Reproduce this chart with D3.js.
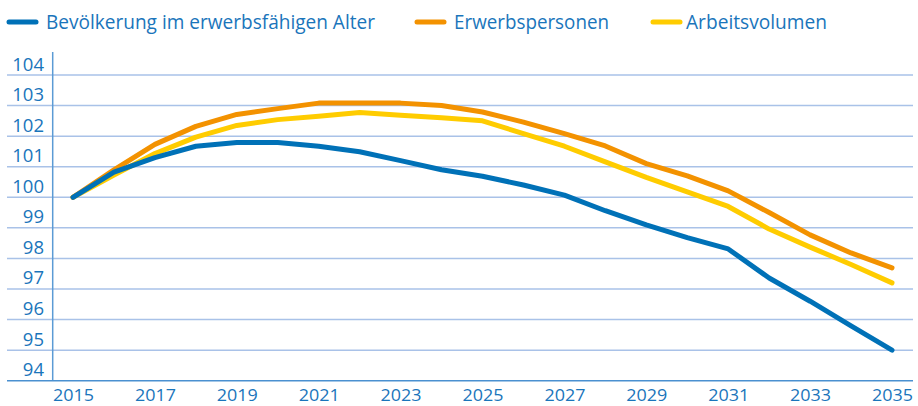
<!DOCTYPE html>
<html>
<head>
<meta charset="utf-8">
<script src="https://cdn.jsdelivr.net/npm/d3@7"></script>
<style>
  body { margin: 0; background: #fff; }
  svg text { font-family: "Open Sans", sans-serif; fill: #1a75bb; }
</style>
</head>
<body>
<script>
// index values, 2015 = 100
var years = d3.range(2015, 2036)
var bevoelkerung = [100, 100.82, 101.3, 101.67, 101.79, 101.79, 101.67, 101.49, 101.2, 100.9, 100.69,
                    100.4, 100.07, 99.56, 99.1, 98.68, 98.31, 97.36, 96.6, 95.79, 95.0]
var erwerbspersonen = [100, 100.9, 101.73, 102.32, 102.71, 102.9, 103.08, 103.08, 103.08, 103.0, 102.79,
                       102.46, 102.08, 101.68, 101.1, 100.7, 100.21, 99.5, 98.77, 98.18, 97.69]
var arbeitsvolumen = [100, 100.73, 101.43, 101.97, 102.35, 102.54, 102.65, 102.77, 102.68, 102.6, 102.5,
                      102.08, 101.67, 101.16, 100.65, 100.18, 99.7, 98.96, 98.37, 97.8, 97.2]
var seriesNames = ['Bevölkerung im erwerbsfähigen Alter', 'Erwerbspersonen', 'Arbeitsvolumen']
var seriesColors = ['#0071b7', '#f39200', '#ffcc00']
var yTicks = d3.range(94, 105)
var xTicks = d3.range(2015, 2036, 2)

var width = 918, height = 406
var svg = d3.select('body').append('svg')
    .attr('width', width)
    .attr('height', height)

var x = d3.scaleLinear().domain([2015, 2035]).range([73, 892])
var y = d3.scaleLinear().domain([94, 104]).range([380.7, 75])

// gridlines
svg.append('g')
  .selectAll('line')
  .data(yTicks.slice(1))
  .enter()
  .append('line')
    .attr('x1', 7)
    .attr('x2', 913)
    .attr('y1', function (d) { return y(d) })
    .attr('y2', function (d) { return y(d) })
    .attr('stroke', '#a9c2e8')
    .attr('stroke-width', 1.5)

// y labels sit just above their gridline
svg.append('g')
  .selectAll('text')
  .data(yTicks)
  .enter()
  .append('text')
    .attr('x', 44)
    .attr('y', function (d) { return y(d) - 4.5 })
    .style('text-anchor', 'end')
    .style('font-size', '18.5px')
    .text(function (d) { return d })

// axis lines
svg.append('line')
    .attr('x1', 52.7).attr('x2', 52.7)
    .attr('y1', 52).attr('y2', y(94))
    .attr('stroke', '#5b9bd5')
    .attr('stroke-width', 1.5)

var xAxis = d3.axisBottom(x)
    .tickValues(xTicks)
    .tickFormat(d3.format('d'))
    .tickSize(0)
    .tickPadding(0)
var gx = svg.append('g')
    .attr('transform', 'translate(0,' + y(94) + ')')
    .call(xAxis)
gx.select('.domain').remove()
gx.append('line')
    .attr('x1', 7).attr('x2', 913)
    .attr('stroke', '#4a90d0')
    .attr('stroke-width', 1.5)
gx.selectAll('.tick text')
    .attr('y', 20.5)
    .attr('dy', 0)
    .attr('fill', null)
    .attr('textLength', 41)
    .attr('lengthAdjust', 'spacingAndGlyphs')
    .style('font-family', '"Open Sans", sans-serif')
    .style('font-size', '17px')

// lines
var line = d3.line()
    .x(function (d, i) { return x(years[i]) })
    .y(function (d) { return y(d) })

var allSeries = [bevoelkerung, erwerbspersonen, arbeitsvolumen]
// draw yellow first, blue on top
var order = [2, 1, 0]
order.forEach(function (k) {
  svg.append('path')
      .datum(allSeries[k])
      .attr('d', line)
      .attr('fill', 'none')
      .attr('stroke', seriesColors[k])
      .attr('stroke-width', 5)
      .attr('stroke-linejoin', 'round')
      .attr('stroke-linecap', 'round')
})

// legend
var legendX = [7, 415, 651]
var legendW = [329, 155, 141]
var legend = svg.append('g')
legend.selectAll('line')
    .data(seriesNames)
    .enter()
  .append('line')
    .attr('x1', function (d, i) { return legendX[i] + 2 })
    .attr('x2', function (d, i) { return legendX[i] + 29 })
    .attr('y1', 22).attr('y2', 22)
    .attr('stroke', function (d, i) { return seriesColors[i] })
    .attr('stroke-width', 5)
    .attr('stroke-linecap', 'round')
legend.selectAll('text')
    .data(seriesNames)
    .enter()
  .append('text')
    .attr('x', function (d, i) { return legendX[i] + (i == 2 ? 35 : 39) })
    .attr('y', 28.5)
    .attr('textLength', function (d, i) { return legendW[i] })
    .attr('lengthAdjust', 'spacingAndGlyphs')
    .style('font-size', '20px')
    .text(function (d) { return d })
</script>
</body>
</html>
